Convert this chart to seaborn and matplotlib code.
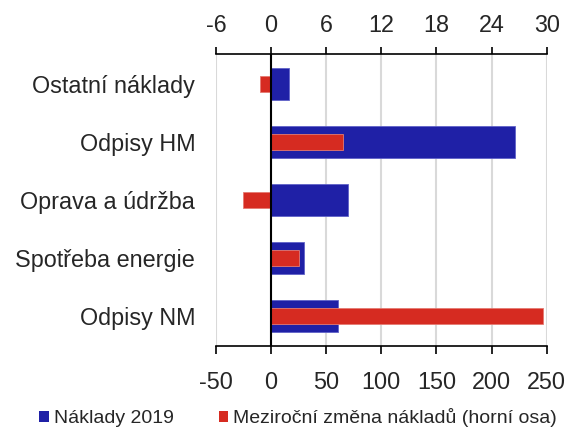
import matplotlib
matplotlib.use("Agg")
import matplotlib.pyplot as plt
import seaborn as sns
import pandas as pd
from matplotlib.patches import Patch

categories = ["Ostatní náklady", "Odpisy HM", "Oprava a údržba", "Spotřeba energie", "Odpisy NM"]
naklady_2019 = [16, 221, 70, 30, 61]
zmena = [-1.2, 7.8, -3.1, 3.0, 29.6]
bottom_ticks = [-50, 0, 50, 100, 150, 200, 250]
top_ticks = [-6, 0, 6, 12, 18, 24, 30]
legend_labels = ["Náklady 2019", "Meziroční změna nákladů (horní osa)"]

BLUE = "#1F20A6"
RED = "#D62B21"

sns.set_theme(style="white")
plt.rcParams["font.family"] = ["Liberation Sans", "DejaVu Sans"]
plt.rcParams["axes.unicode_minus"] = False

df = pd.DataFrame({"cat": categories, "val": naklady_2019, "chg": zmena})

fig = plt.figure(figsize=(5.68, 4.30), dpi=100)
ax = fig.add_axes([0.3803, 0.1953, 0.5822, 0.6791])

sns.barplot(data=df, x="val", y="cat", orient="h", color=BLUE, width=0.54,
            saturation=1, ax=ax, edgecolor="#6062C8", linewidth=0.6, zorder=2)
ax.set_xlim(-50, 250)
ax.set_ylim(4.52, -0.52)
ax.set_xticks(bottom_ticks)
ax.set_xlabel("")
ax.set_ylabel("")
ax.grid(axis="x", color="#D9D9D9", linewidth=1.5, zorder=0)
ax.set_axisbelow(True)
for s in ["left", "right", "top"]:
    ax.spines[s].set_visible(False)
ax.spines["bottom"].set_color("black")
ax.spines["bottom"].set_linewidth(1.2)
ax.tick_params(axis="x", direction="out", length=6, width=1.2, color="black",
               labelsize=16.8, pad=12, bottom=True)
ax.tick_params(axis="y", length=0, labelsize=16.8, pad=15)

ax2 = ax.twiny()
sns.barplot(data=df, x="chg", y="cat", orient="h", color=RED, width=0.28,
            saturation=1, ax=ax2, edgecolor="#E57A72", linewidth=0.6, zorder=2)
ax2.set_xlim(-6, 30)
ax2.set_ylim(4.52, -0.52)
ax2.set_xticks(top_ticks)
ax2.set_xlabel("")
ax2.set_ylabel("")
for s in ["left", "right", "bottom"]:
    ax2.spines[s].set_visible(False)
ax2.spines["top"].set_color("black")
ax2.spines["top"].set_linewidth(1.2)
ax2.tick_params(axis="x", direction="out", length=5, width=1.2, color="black",
                labelsize=16.8, pad=7, top=True)
ax2.axvline(0, color="black", linewidth=1.5, zorder=5)

handles = [Patch(facecolor=BLUE, edgecolor="none"), Patch(facecolor=RED, edgecolor="none")]
fig.legend(handles, legend_labels, loc="center", bbox_to_anchor=(0.525, 0.028), ncol=2,
           frameon=False, fontsize=14, handlelength=0.5, handleheight=0.5,
           handletextpad=0.25, columnspacing=2.3)

fig.savefig("out.png", dpi=100)
